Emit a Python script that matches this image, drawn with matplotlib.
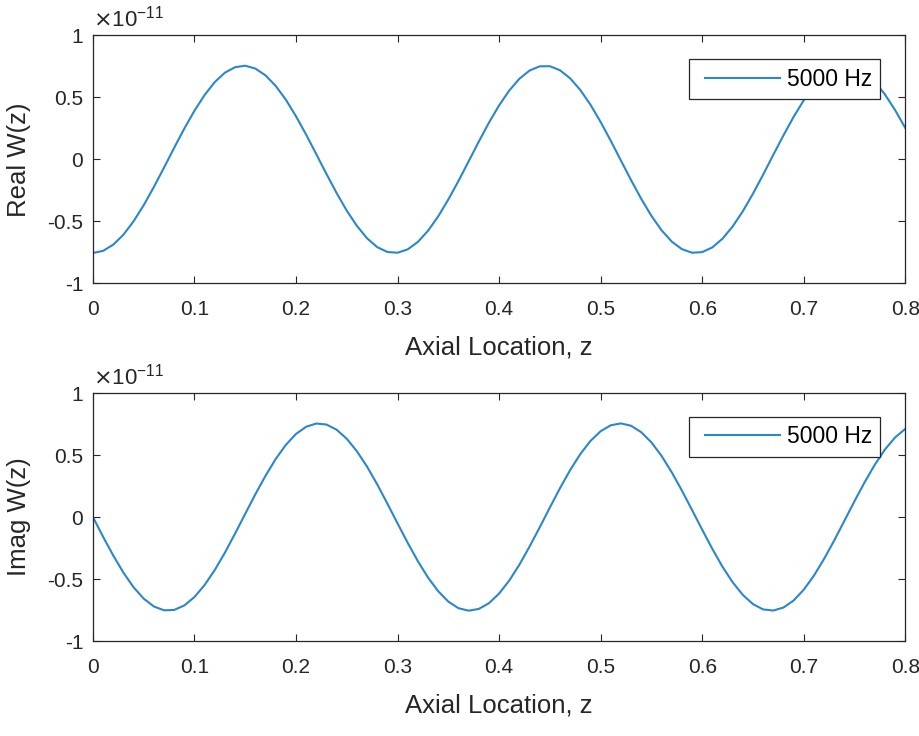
import matplotlib
matplotlib.use("Agg")
import matplotlib.pyplot as plt
from matplotlib.ticker import FormatStrFormatter
from matplotlib.legend_handler import HandlerLine2D
from matplotlib.lines import Line2D

plt.rcParams['font.family'] = ['Liberation Sans', 'DejaVu Sans']
plt.rcParams['axes.unicode_minus'] = False

# axial location samples
z = [i / 100 for i in range(81)]

# W(z) values, in units of 1e-11
real_w = [-0.755, -0.738, -0.688, -0.608, -0.500, -0.370, -0.223, -0.067, 0.093, 0.248,
          0.392, 0.519, 0.623, 0.699, 0.743, 0.755, 0.732, 0.677, 0.592, 0.481,
          0.347, 0.199, 0.041, -0.118, -0.272, -0.414, -0.537, -0.637, -0.708, -0.747,
          -0.753, -0.726, -0.666, -0.576, -0.460, -0.324, -0.174, -0.016, 0.143, 0.296,
          0.435, 0.555, 0.650, 0.716, 0.750, 0.751, 0.718, 0.653, 0.559, 0.440,
          0.301, 0.149, -0.010, -0.168, -0.319, -0.456, -0.572, -0.663, -0.724, -0.753,
          -0.748, -0.710, -0.640, -0.541, -0.419, -0.277, -0.124, 0.036, 0.193, 0.342,
          0.476, 0.589, 0.675, 0.731, 0.754, 0.744, 0.701, 0.626, 0.523, 0.397,
          0.253]
imag_w = [0.0, -0.159, -0.310, -0.448, -0.566, -0.658, -0.721, -0.752, -0.749, -0.713,
          -0.645, -0.548, -0.427, -0.287, -0.133, 0.026, 0.184, 0.333, 0.468, 0.582,
          0.670, 0.728, 0.754, 0.746, 0.704, 0.631, 0.530, 0.406, 0.263, 0.108,
          -0.051, -0.208, -0.356, -0.488, -0.598, -0.682, -0.735, -0.755, -0.741, -0.695,
          -0.617, -0.512, -0.384, -0.238, -0.083, 0.077, 0.233, 0.379, 0.508, 0.614,
          0.692, 0.740, 0.755, 0.736, 0.684, 0.602, 0.493, 0.361, 0.214, 0.057,
          -0.102, -0.257, -0.401, -0.526, -0.628, -0.702, -0.745, -0.754, -0.730, -0.673,
          -0.586, -0.473, -0.338, -0.189, -0.031, 0.128, 0.281, 0.422, 0.545, 0.642,
          0.711]

legend_label = "5000 Hz"
x_ticks = [0, 0.1, 0.2, 0.3, 0.4, 0.5, 0.6, 0.7, 0.8]
y_ticks = [-1, -0.5, 0, 0.5, 1]


class PaddedLine(HandlerLine2D):
    # MATLAB-like legend: leave a gap before the sample line
    def create_artists(self, legend, orig_handle, xdescent, ydescent,
                       width, height, fontsize, trans):
        arts = super().create_artists(legend, orig_handle, xdescent, ydescent,
                                      width, height, fontsize, trans)
        for a in arts:
            x = a.get_xdata()
            y = a.get_ydata()
            a.set_xdata([x[0] + 5, x[-1]])
            a.set_ydata([y[0], y[-1]])
        return arts


fig = plt.figure(figsize=(9.2, 7.36), dpi=100)
ax1 = fig.add_axes([0.101, 0.615, 0.883, 0.337])
ax2 = fig.add_axes([0.101, 0.129, 0.883, 0.337])

dark = '#262626'
for ax, data, ylab in [(ax1, real_w, 'Real W(z)'), (ax2, imag_w, 'Imag W(z)')]:
    ax.plot(z, data, color='#2a87cc', lw=1.5, label=legend_label)
    ax.set_xlim(0, 0.8)
    ax.set_ylim(-1, 1)
    ax.set_xticks(x_ticks)
    ax.set_yticks(y_ticks)
    ax.xaxis.set_major_formatter(FormatStrFormatter('%g'))
    ax.yaxis.set_major_formatter(FormatStrFormatter('%g'))
    ax.tick_params(direction='in', top=True, right=True, length=5, width=0.8,
                   labelsize=15, colors=dark)
    ax.tick_params(axis='x', pad=12)
    ax.tick_params(axis='y', pad=7)
    for s in ax.spines.values():
        s.set_color(dark)
        s.set_linewidth(0.9)
    ax.set_xlabel('Axial Location, z', fontsize=18.5, color=dark, labelpad=12)
    ax.set_ylabel(ylab, fontsize=18.5, color=dark, labelpad=12)
    ax.text(0.0, 1.015, r'$\times\mathregular{10^{-11}}$', transform=ax.transAxes,
            fontsize=16, color=dark, ha='left', va='bottom')
    leg = ax.legend(loc='upper right', bbox_to_anchor=(0.969, 0.903), fontsize=16.5,
                    fancybox=False, edgecolor=dark, framealpha=1, handlelength=3.58,
                    borderpad=0.36, handletextpad=0.3, borderaxespad=0,
                    handler_map={Line2D: PaddedLine()})
    leg.get_frame().set_linewidth(0.9)

fig.savefig('out.png', dpi=100)
